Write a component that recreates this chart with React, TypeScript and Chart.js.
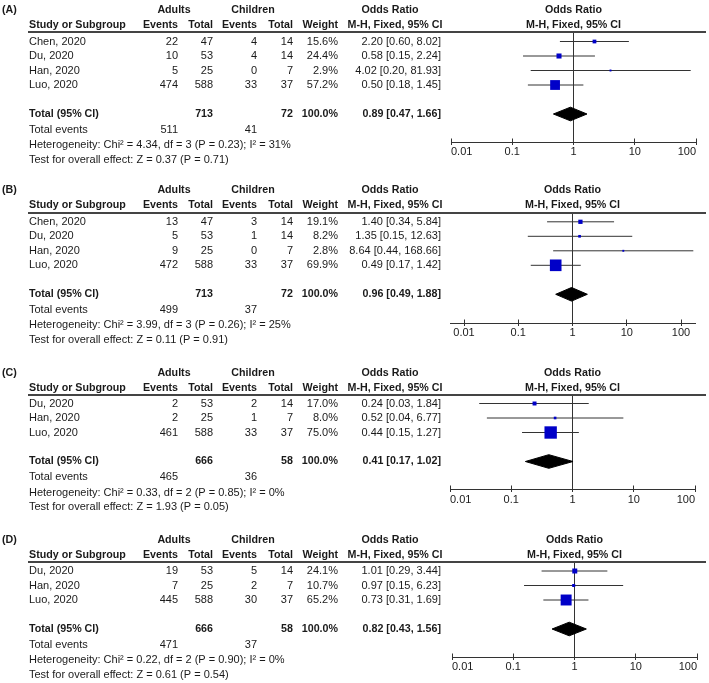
import React, { useEffect, useRef } from "react";
import { Chart, registerables } from "chart.js";

Chart.register(...registerables);

const FONT = '"Liberation Sans", Arial, Helvetica, sans-serif';
const TEXT = "#1a1a1a";
const LINE = "#333333";
const BLUE = "#0000c8";

// ---------- Panel (A) ----------
const studiesA = ["Chen, 2020", "Du, 2020", "Han, 2020", "Luo, 2020"];
const adultEventsA = [22, 10, 5, 474];
const adultTotalA = [47, 53, 25, 588];
const childEventsA = [4, 4, 0, 33];
const childTotalA = [14, 14, 7, 37];
const weightA = [15.6, 24.4, 2.9, 57.2];
const orA = [2.2, 0.58, 4.02, 0.5];
const lowerA = [0.6, 0.15, 0.2, 0.18];
const upperA = [8.02, 2.24, 81.93, 1.45];
const pooledA = [0.89, 0.47, 1.66];
const sumTotalsA = [713, 72];
const sumEventsA = [511, 41];
const heterogeneityA = "Heterogeneity: Chi² = 4.34, df = 3 (P = 0.23); I² = 31%";
const overallA = "Test for overall effect: Z = 0.37 (P = 0.71)";

// ---------- Panel (B) ----------
const studiesB = ["Chen, 2020", "Du, 2020", "Han, 2020", "Luo, 2020"];
const adultEventsB = [13, 5, 9, 472];
const adultTotalB = [47, 53, 25, 588];
const childEventsB = [3, 1, 0, 33];
const childTotalB = [14, 14, 7, 37];
const weightB = [19.1, 8.2, 2.8, 69.9];
const orB = [1.4, 1.35, 8.64, 0.49];
const lowerB = [0.34, 0.15, 0.44, 0.17];
const upperB = [5.84, 12.63, 168.66, 1.42];
const pooledB = [0.96, 0.49, 1.88];
const sumTotalsB = [713, 72];
const sumEventsB = [499, 37];
const heterogeneityB = "Heterogeneity: Chi² = 3.99, df = 3 (P = 0.26); I² = 25%";
const overallB = "Test for overall effect: Z = 0.11 (P = 0.91)";

// ---------- Panel (C) ----------
const studiesC = ["Du, 2020", "Han, 2020", "Luo, 2020"];
const adultEventsC = [2, 2, 461];
const adultTotalC = [53, 25, 588];
const childEventsC = [2, 1, 33];
const childTotalC = [14, 7, 37];
const weightC = [17.0, 8.0, 75.0];
const orC = [0.24, 0.52, 0.44];
const lowerC = [0.03, 0.04, 0.15];
const upperC = [1.84, 6.77, 1.27];
const pooledC = [0.41, 0.17, 1.02];
const sumTotalsC = [666, 58];
const sumEventsC = [465, 36];
const heterogeneityC = "Heterogeneity: Chi² = 0.33, df = 2 (P = 0.85); I² = 0%";
const overallC = "Test for overall effect: Z = 1.93 (P = 0.05)";

// ---------- Panel (D) ----------
const studiesD = ["Du, 2020", "Han, 2020", "Luo, 2020"];
const adultEventsD = [19, 7, 445];
const adultTotalD = [53, 25, 588];
const childEventsD = [5, 2, 30];
const childTotalD = [14, 7, 37];
const weightD = [24.1, 10.7, 65.2];
const orD = [1.01, 0.97, 0.73];
const lowerD = [0.29, 0.15, 0.31];
const upperD = [3.44, 6.23, 1.69];
const pooledD = [0.82, 0.43, 1.56];
const sumTotalsD = [666, 58];
const sumEventsD = [471, 37];
const heterogeneityD = "Heterogeneity: Chi² = 0.22, df = 2 (P = 0.90); I² = 0%";
const overallD = "Test for overall effect: Z = 0.61 (P = 0.54)";

// axis ticks
const tickValues = [0.01, 0.1, 1, 10, 100];
const tickLabels = ["0.01", "0.1", "1", "10", "100"];

const panelLabels = ["(A)", "(B)", "(C)", "(D)"];

// ---------- layout (positions only) ----------
type Geo = {
  top: number;
  height: number;
  lineY: number;
  firstRowY: number;
  axisY: number;
  xLeft: number;
  xRight: number;
  xMin: number;
  xMax: number;
  tickAlign: string;
  labelPad: number;
};

const geoA: Geo = { top: 0, height: 180, lineY: 32, firstRowY: 41.5, axisY: 142, xLeft: 451, xRight: 696, xMin: 0.01, xMax: 100, tickAlign: "inner", labelPad: 0 };
const geoB: Geo = {
  top: 180, height: 183, lineY: 33, firstRowY: 41.8, axisY: 143, xLeft: 450, xRight: 695,
  xMin: Math.pow(10, -2 - 14 / 54.25), xMax: Math.pow(10, 2 + 14 / 54.25), tickAlign: "center", labelPad: 0,
};
const geoC: Geo = { top: 363, height: 167, lineY: 32, firstRowY: 40.5, axisY: 126, xLeft: 450, xRight: 695, xMin: 0.01, xMax: 100, tickAlign: "inner", labelPad: 1.5 };
const geoD: Geo = { top: 530, height: 153, lineY: 32, firstRowY: 41, axisY: 127, xLeft: 452, xRight: 697, xMin: 0.01, xMax: 100, tickAlign: "inner", labelPad: 0 };

const COL = {
  label: 2,
  study: 29,
  aEv: 178,
  aTot: 213,
  cEv: 257,
  cTot: 293,
  weight: 338,
  orText: 441,
  adults: 174,
  children: 253,
  orHead1: 390,
  orHead2: 395,
  lineL: 28,
  lineR: 706,
};
const STEP = 14.5;

type Panel = {
  label: string;
  studies: string[];
  adultEvents: number[];
  adultTotal: number[];
  childEvents: number[];
  childTotal: number[];
  weight: number[];
  or: number[];
  lower: number[];
  upper: number[];
  pooled: number[];
  sumTotals: number[];
  sumEvents: number[];
  heterogeneity: string;
  overall: string;
  geo: Geo;
};

const panels: Panel[] = [
  { label: panelLabels[0], studies: studiesA, adultEvents: adultEventsA, adultTotal: adultTotalA, childEvents: childEventsA, childTotal: childTotalA, weight: weightA, or: orA, lower: lowerA, upper: upperA, pooled: pooledA, sumTotals: sumTotalsA, sumEvents: sumEventsA, heterogeneity: heterogeneityA, overall: overallA, geo: geoA },
  { label: panelLabels[1], studies: studiesB, adultEvents: adultEventsB, adultTotal: adultTotalB, childEvents: childEventsB, childTotal: childTotalB, weight: weightB, or: orB, lower: lowerB, upper: upperB, pooled: pooledB, sumTotals: sumTotalsB, sumEvents: sumEventsB, heterogeneity: heterogeneityB, overall: overallB, geo: geoB },
  { label: panelLabels[2], studies: studiesC, adultEvents: adultEventsC, adultTotal: adultTotalC, childEvents: childEventsC, childTotal: childTotalC, weight: weightC, or: orC, lower: lowerC, upper: upperC, pooled: pooledC, sumTotals: sumTotalsC, sumEvents: sumEventsC, heterogeneity: heterogeneityC, overall: overallC, geo: geoC },
  { label: panelLabels[3], studies: studiesD, adultEvents: adultEventsD, adultTotal: adultTotalD, childEvents: childEventsD, childTotal: childTotalD, weight: weightD, or: orD, lower: lowerD, upper: upperD, pooled: pooledD, sumTotals: sumTotalsD, sumEvents: sumEventsD, heterogeneity: heterogeneityD, overall: overallD, geo: geoD },
];

const fmtCI = (e: number, l: number, u: number) => `${e.toFixed(2)} [${l.toFixed(2)}, ${u.toFixed(2)}]`;

function makeConfig(p: Panel): any {
  const g = p.geo;
  const n = p.studies.length;
  const yMin = -(g.firstRowY - g.lineY) / STEP;
  const yMax = (g.axisY - g.firstRowY) / STEP;
  const totalRow = n + 1;

  const datasets: any[] = [];
  // squares (drawn on top: first dataset)
  datasets.push({
    type: "scatter",
    data: p.or.map((v, i) => ({ x: v, y: i })),
    pointStyle: "rect",
    pointRadius: p.weight.map((w) => (1.5 + 0.145 * w) / Math.SQRT2),
    pointHoverRadius: p.weight.map((w) => (1.5 + 0.145 * w) / Math.SQRT2),
    backgroundColor: BLUE,
    borderColor: BLUE,
    borderWidth: 0,
  });
  // pooled diamond
  const [pe, pl, pu] = p.pooled;
  datasets.push({
    type: "line",
    data: [
      { x: pl, y: totalRow },
      { x: pe, y: totalRow - 0.47 },
      { x: pu, y: totalRow },
      { x: pe, y: totalRow + 0.47 },
      { x: pl, y: totalRow },
    ],
    borderColor: "#000",
    backgroundColor: "#000",
    borderWidth: 1,
    pointRadius: 0,
    tension: 0,
    fill: "shape",
  });
  // confidence intervals
  p.studies.forEach((_s, i) => {
    datasets.push({
      type: "line",
      data: [
        { x: p.lower[i], y: i },
        { x: p.upper[i], y: i },
      ],
      borderColor: LINE,
      borderWidth: 1,
      pointRadius: 0,
      fill: false,
    });
  });

  const textPlugin = {
    id: "forestText",
    afterDraw(chart: any) {
      const ctx: CanvasRenderingContext2D = chart.ctx;
      const ys = chart.scales.y;
      const xs = chart.scales.x;
      const Y = (v: number) => ys.getPixelForValue(v);
      const area = chart.chartArea;
      ctx.save();

      // header rule
      ctx.strokeStyle = "#444";
      ctx.lineWidth = 2;
      ctx.beginPath();
      ctx.moveTo(COL.lineL, g.lineY);
      ctx.lineTo(COL.lineR, g.lineY);
      ctx.stroke();

      // upward part of the tick marks
      ctx.strokeStyle = LINE;
      ctx.lineWidth = 1;
      ctx.beginPath();
      tickValues.forEach((v) => {
        const px = Math.round(xs.getPixelForValue(v) - 0.5) + 0.5;
        ctx.moveTo(px, area.bottom - 3.5);
        ctx.lineTo(px, area.bottom);
      });
      ctx.stroke();

      const t = (s: string, x: number, y: number, align: CanvasTextAlign, bold = false) => {
        ctx.font = `${bold ? "bold " : ""}${bold ? 10.7 : 11}px ${FONT}`;
        ctx.fillStyle = TEXT;
        ctx.textAlign = align;
        ctx.textBaseline = "middle";
        ctx.fillText(s, x, y);
      };

      const h1 = 10;
      const h2 = 25;
      t(p.label, COL.label, h1, "left", true);
      t("Adults", COL.adults, h1, "center", true);
      t("Children", COL.children, h1, "center", true);
      t("Odds Ratio", COL.orHead1, h1, "center", true);
      const plotC = (area.left + area.right) / 2;
      t("Odds Ratio", plotC, h1, "center", true);
      t("Study or Subgroup", COL.study, h2, "left", true);
      t("Events", COL.aEv, h2, "right", true);
      t("Total", COL.aTot, h2, "right", true);
      t("Events", COL.cEv, h2, "right", true);
      t("Total", COL.cTot, h2, "right", true);
      t("Weight", COL.weight, h2, "right", true);
      t("M-H, Fixed, 95% CI", COL.orHead2, h2, "center", true);
      t("M-H, Fixed, 95% CI", plotC, h2, "center", true);

      p.studies.forEach((s, i) => {
        const y = Y(i);
        t(s, COL.study, y, "left");
        t(String(p.adultEvents[i]), COL.aEv, y, "right");
        t(String(p.adultTotal[i]), COL.aTot, y, "right");
        t(String(p.childEvents[i]), COL.cEv, y, "right");
        t(String(p.childTotal[i]), COL.cTot, y, "right");
        t(`${p.weight[i].toFixed(1)}%`, COL.weight, y, "right");
        t(fmtCI(p.or[i], p.lower[i], p.upper[i]), COL.orText, y, "right");
      });

      const ty = Y(totalRow);
      t("Total (95% CI)", COL.study, ty, "left", true);
      t(String(p.sumTotals[0]), COL.aTot, ty, "right", true);
      t(String(p.sumTotals[1]), COL.cTot, ty, "right", true);
      t("100.0%", COL.weight, ty, "right", true);
      t(fmtCI(pe, pl, pu), COL.orText, ty, "right", true);

      const ey = Y(totalRow + 1.1);
      t("Total events", COL.study, ey, "left");
      t(String(p.sumEvents[0]), COL.aEv, ey, "right");
      t(String(p.sumEvents[1]), COL.cEv, ey, "right");
      t(p.heterogeneity, COL.study, Y(totalRow + 2.14), "left");
      t(p.overall, COL.study, Y(totalRow + 3.17), "left");

      ctx.restore();
    },
  };

  return {
    type: "scatter",
    data: { datasets },
    options: {
      animation: false,
      responsive: false,
      events: [],
      layout: {
        padding: {
          left: g.xLeft,
          right: 709 - g.xRight,
          top: g.lineY,
          bottom: g.height - g.axisY - 20,
        },
      },
      plugins: { legend: { display: false }, tooltip: { enabled: false } },
      scales: {
        x: {
          type: "logarithmic",
          min: g.xMin,
          max: g.xMax,
          bounds: "data",
          afterBuildTicks: (s: any) => {
            s.ticks = tickValues.map((v) => ({ value: v }));
          },
          afterFit: (s: any) => {
            s.height = 20;
          },
          ticks: {
            callback: (_v: any, i: number) => tickLabels[i],
            font: { family: FONT, size: 11 },
            color: TEXT,
            padding: g.labelPad,
            align: g.tickAlign,
            maxRotation: 0,
            autoSkip: false,
          },
          grid: {
            color: (c: any) => (c.tick && c.tick.value === 1 ? LINE : "rgba(0,0,0,0)"),
            tickColor: LINE,
            tickLength: 3,
            lineWidth: 1,
          },
          border: { display: true, color: LINE, width: 1 },
        },
        y: {
          type: "linear",
          reverse: true,
          min: yMin,
          max: yMax,
          display: false,
        },
      },
    },
    plugins: [textPlugin],
  };
}

function PanelChart({ p }: { p: Panel }) {
  const ref = useRef<HTMLCanvasElement>(null);
  useEffect(() => {
    if (!ref.current) return;
    const chart = new Chart(ref.current, makeConfig(p));
    return () => chart.destroy();
  }, [p]);
  return (
    <canvas
      ref={ref}
      width={709}
      height={p.geo.height}
      style={{ position: "absolute", left: 0, top: p.geo.top, width: 709, height: p.geo.height }}
    />
  );
}

export default function App() {
  return (
    <div style={{ position: "absolute", left: 0, top: 0, width: 709, height: 683, background: "#fff" }}>
      {panels.map((p, i) => (
        <PanelChart key={i} p={p} />
      ))}
    </div>
  );
}
